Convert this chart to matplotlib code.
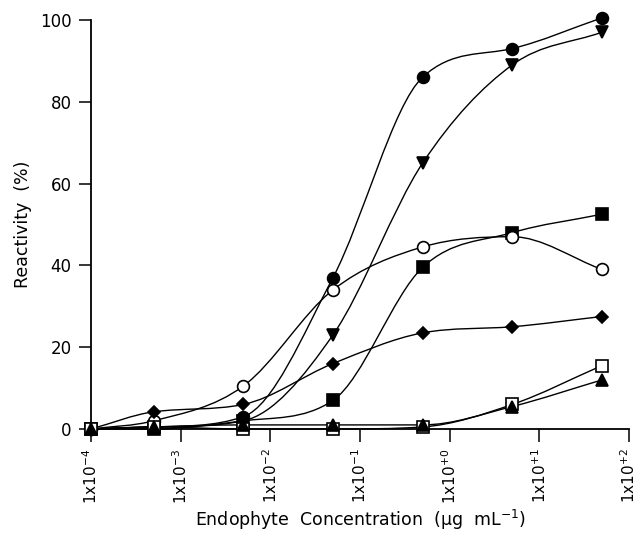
import numpy as np
import matplotlib
matplotlib.use("Agg")
import matplotlib.pyplot as plt
from matplotlib.path import Path
from matplotlib.patches import PathPatch

plt.rcParams['font.family'] = ['DejaVu Sans']

# concentrations (ug/mL)
conc = [1e-4, 5e-4, 5e-3, 5e-2, 5e-1, 5, 50]

# reactivity (%)
filled_circle = [0, 0.5, 3, 37, 86, 93, 100.5]
filled_tri_down = [0, 0.5, 2, 23, 65, 89, 97]
filled_square = [0, 0, 2, 7, 39.5, 48, 52.5]
open_circle = [0, 2, 10.5, 34, 44.5, 47, 39]
filled_diamond = [0, 4.2, 6, 16, 23.5, 25, 27.5]
open_square = [0, 0.5, 0, 0, 0.5, 6, 15.5]
filled_tri_up = [0, 0.5, 1, 1, 1, 5.5, 12]

series = [
    (filled_circle, 'o', 'k'),
    (filled_tri_down, 'v', 'k'),
    (filled_square, 's', 'k'),
    (open_circle, 'o', 'white'),
    (filled_diamond, 'D', 'k'),
    (open_square, 's', 'white'),
    (filled_tri_up, '^', 'k'),
]
msizes = {'o': 8.5, 'v': 8.5, '^': 8.5, 's': 8, 'D': 6.5}


def smooth_path(ax, xs, ys):
    # monotone cubic (Fritsch-Carlson) through the points, in display space
    pts = ax.transData.transform(np.column_stack([xs, ys]))
    px, py = pts[:, 0], pts[:, 1]
    n = len(px)
    h = np.diff(px)
    d = np.diff(py) / h
    m = np.zeros(n)
    m[0], m[-1] = d[0], d[-1]
    for k in range(1, n - 1):
        if d[k - 1] * d[k] > 0:
            m[k] = (d[k - 1] + d[k]) / 2
    for k in range(n - 1):
        if d[k] == 0:
            m[k] = m[k + 1] = 0
            continue
        a, b = m[k] / d[k], m[k + 1] / d[k]
        s = a * a + b * b
        if s > 9:
            t = 3 / np.sqrt(s)
            m[k], m[k + 1] = t * a * d[k], t * b * d[k]
    verts = [pts[0]]
    codes = [Path.MOVETO]
    for k in range(n - 1):
        c1 = (px[k] + h[k] / 3, py[k] + m[k] * h[k] / 3)
        c2 = (px[k + 1] - h[k] / 3, py[k + 1] - m[k + 1] * h[k] / 3)
        verts += [c1, c2, (px[k + 1], py[k + 1])]
        codes += [Path.CURVE4] * 3
    patch = PathPatch(Path(verts, codes), facecolor='none', edgecolor='k',
                      lw=1.0, transform=None, clip_on=False, zorder=2)
    ax.add_artist(patch)


fig = plt.figure(figsize=(6.34, 5.38), dpi=100)
ax = fig.add_axes([0.1435, 0.2026, 0.8485, 0.7604])
ax.set_xscale('log')
ax.set_xlim(1e-4, 1e2)
ax.set_ylim(0, 100)

for ys, mk, fc in series:
    ax.plot(conc, ys, linestyle='none', marker=mk, mfc=fc, mec='k', mew=1.2,
            ms=msizes[mk], clip_on=False, zorder=3)

for sp in ['top', 'right']:
    ax.spines[sp].set_visible(False)
ax.spines['left'].set_linewidth(1.3)
ax.spines['bottom'].set_linewidth(1.3)

ax.set_yticks([0, 20, 40, 60, 80, 100])
ax.set_xticks([1e-4, 1e-3, 1e-2, 1e-1, 1e0, 1e1, 1e2])
ax.set_xticklabels(['1x10$^{-4}$', '1x10$^{-3}$', '1x10$^{-2}$', '1x10$^{-1}$',
                    '1x10$^{+0}$', '1x10$^{+1}$', '1x10$^{+2}$'], rotation=90)
ax.minorticks_off()
ax.tick_params(axis='both', direction='out', length=9, width=1.1)
ax.tick_params(axis='y', pad=5, labelsize=12)
ax.tick_params(axis='x', pad=5, labelsize=11)
ax.set_ylabel('Reactivity  (%)', fontsize=12.5, labelpad=6)
ax.set_xlabel('Endophyte  Concentration  (µg  mL$^{-1}$)', fontsize=12.5, labelpad=3)

fig.canvas.draw()
for ys, mk, fc in series:
    smooth_path(ax, conc, ys)

fig.savefig('out.png', dpi=100)
